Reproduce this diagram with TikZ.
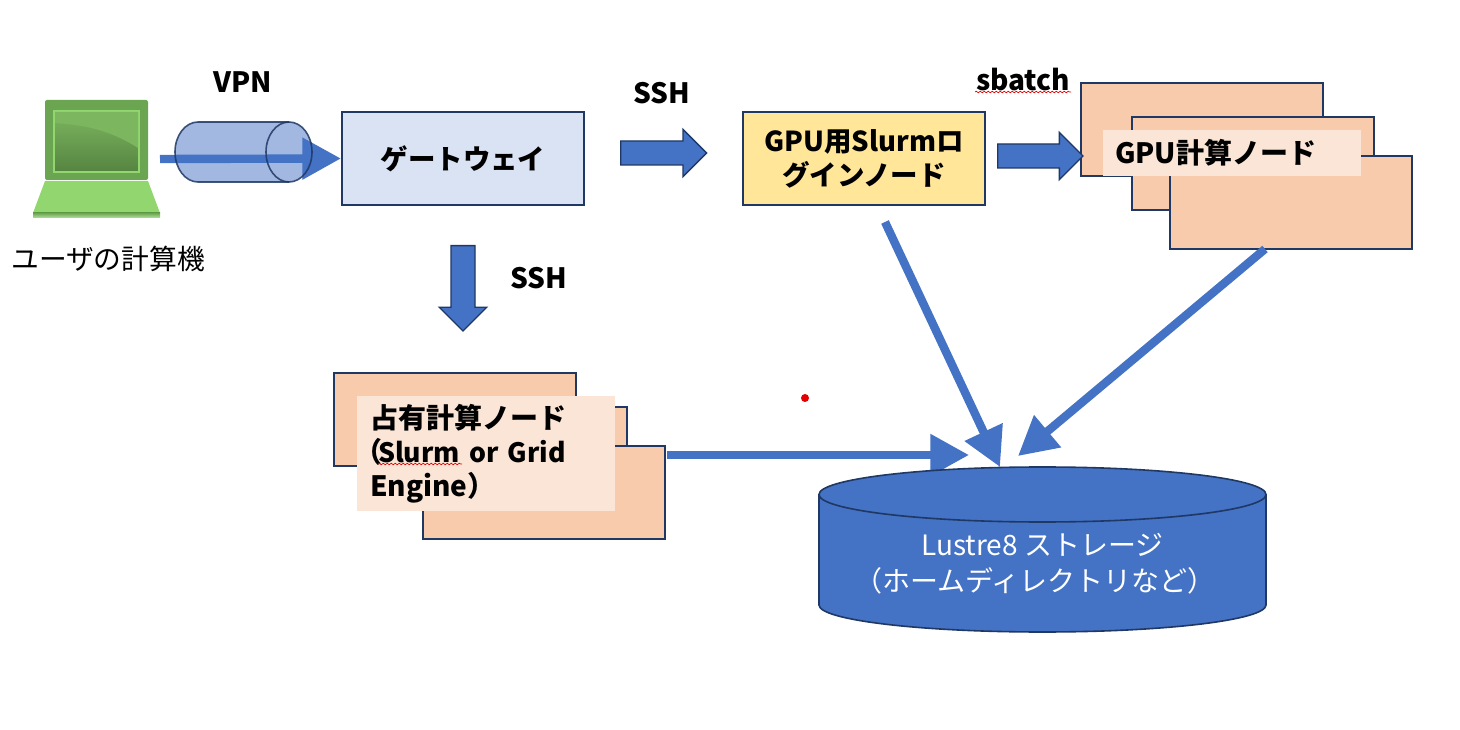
\documentclass[tikz,border=0pt]{standalone}
\usepackage{fontspec}
\setmainfont{Noto Sans CJK JP}
\usetikzlibrary{arrows.meta,shapes.arrows,decorations.pathmorphing}
\definecolor{edgeblue}{HTML}{1F3864}
\definecolor{mainblue}{HTML}{4472C4}
\definecolor{gatefill}{HTML}{DAE3F3}
\definecolor{loginfill}{HTML}{FFE699}
\definecolor{nodefill}{HTML}{F8CBAD}
\definecolor{labelfill}{HTML}{FBE5D6}
\definecolor{tubefill}{HTML}{A2B8E1}
\definecolor{lapdark}{HTML}{6BA552}
\definecolor{lapmid}{HTML}{92D670}
\tikzset{
  boxbase/.style={draw=edgeblue,line width=1.5pt,minimum width=181.5pt,minimum height=69.75pt,inner sep=0pt,align=center,font=\bfseries\fontsize{20.6}{25.5}\selectfont},
  gatebox/.style={boxbase,fill=gatefill},
  loginbox/.style={boxbase,fill=loginfill},
  compbox/.style={boxbase,fill=nodefill},
  tag/.style={fill=labelfill,inner ysep=0pt,align=left,font=\bfseries\fontsize{21}{25.5}\selectfont},
  caption/.style={inner sep=0pt,font=\bfseries\fontsize{21}{25.5}\selectfont},
  blockarrow/.style={single arrow,draw=edgeblue,line width=1pt,fill=mainblue,inner xsep=0pt,inner ysep=8.5pt,minimum width=34.5pt,single arrow head extend=8.75pt,anchor=tail},
  flow/.style={draw=mainblue,line width=6.3pt,-{Triangle[length=29pt,width=30pt]}},
  spell/.style={draw=red!90!black,line width=0.5pt,decorate,decoration={snake,segment length=3pt,amplitude=0.6pt}},
  tubeline/.style={draw=edgeblue,line width=1.2pt,draw opacity=.85}
}
\begin{document}
\begin{tikzpicture}[x=0.75pt,y=-0.75pt]
\useasboundingbox (0,0) rectangle (1460,730);
% laptop
\fill[lapdark,rounded corners=1.5pt] (45,100) rectangle (148,180);
\shade[top color=lapmid!85!black,bottom color=lapdark!80!black,draw=lapmid,line width=1.5pt] (54,111) rectangle (139,172);
\fill[lapmid!85!black] (55,112) -- (138,112) -- (138,148) .. controls (110,130) and (85,125) .. (55,123) -- cycle;
\fill[lapmid] (45,181) -- (148,181) -- (160,213) -- (33,213) -- cycle;
\shade[top color=lapdark,bottom color=lapmid!70!white] (33,213) rectangle (160,218);
\node[inner sep=0pt,anchor=west,font=\fontsize{20.8}{25.5}\selectfont] (user) at (11,259) {ユーザの計算機};
% VPN tube
\path[fill=tubefill] (198,122) -- (289,122) arc[start angle=-90,end angle=90,x radius=23,y radius=30] -- (198,182) arc[start angle=90,end angle=270,x radius=23,y radius=30] -- cycle;
\coordinate (vpnStart) at (160,159);
\node[gatebox] (gate) at (463,158.5) {ゲートウェイ};
\draw[flow] (vpnStart) -- (gate.west);
\path[tubeline] (198,122) -- (289,122) arc[start angle=-90,end angle=90,x radius=23,y radius=30] -- (198,182) arc[start angle=90,end angle=270,x radius=23,y radius=30] -- cycle;
\draw[tubeline] (289,122) arc[start angle=270,end angle=90,x radius=23,y radius=30];
\node[caption] (vpn) at (243,82) {VPN};
% login and GPU nodes
\node[loginbox] (login) at (864,158.5) {GPU用Slurmロ\\グインノード};
\node[compbox] (gpuA) at (1202,129.5) {};
\node[compbox] (gpuB) at (1253,163.5) {};
\node[compbox] (gpuC) at (1291,202.5) {};
\node[tag,text width=175.5pt,inner xsep=9pt,minimum height=34.5pt] (gpuTag) at (1232,153) {GPU計算ノード};
% block arrows
\node[blockarrow,minimum height=64.5pt] (sshA) at (620,153) {};
\node[blockarrow,minimum height=64pt] (sshB) at (997,156) {};
\node[blockarrow,minimum height=64pt,rotate=-90] (sshC) at (463,245) {};
\node[caption] (sshAtext) at (662,93) {SSH};
\node[caption] (sshCtext) at (539,278) {SSH};
\node[caption,anchor=west] (sbatch) at (976,80) {sbatch};
\coordinate (sbatchL) at (975,92);
\coordinate (sbatchR) at (1071,92);
\draw[spell] (sbatchL) -- (sbatchR);
% occupied nodes
\node[compbox] (occA) at (455,419.5) {};
\node[compbox] (occB) at (506,453.5) {};
\node[compbox] (occC) at (544,492.5) {};
\node[tag,text width=174pt,inner xsep=9.75pt,minimum height=86.25pt] (occTag) at (486,453.5) {占有計算ノード\\\hspace*{-12pt}（\hspace{-3pt}{\fontsize{20}{25.5}\selectfont Slurm or Grid}\\Engine）};
\coordinate (slurmL) at (378,464);
\coordinate (slurmR) at (462,464);
\draw[spell] (slurmL) -- (slurmR);
% flows into storage
\coordinate (occOut) at (667,455);
\coordinate (occIn) at (969,455);
\coordinate (loginOut) at (885,222);
\coordinate (loginIn) at (1000,467);
\coordinate (gpuOut) at (1265,249);
\coordinate (gpuIn) at (1018,456);
\draw[flow] (occOut) -- (occIn);
\draw[flow] (loginOut) -- (loginIn);
\draw[flow] (gpuOut) -- (gpuIn);
% storage
\path[fill=mainblue,draw=edgeblue,line width=1.2pt] (819,494.5) arc[start angle=180,end angle=360,x radius=223.5,y radius=27.5] -- (1266,605) arc[start angle=0,end angle=180,x radius=223.5,y radius=27] -- cycle;
\draw[edgeblue,line width=1.2pt] (819,494.5) arc[start angle=180,end angle=0,x radius=223.5,y radius=27.5];
\node[inner sep=0pt,align=center,text=white,font=\fontsize{21}{27}\selectfont] (storage) at (1035,564) {\hspace*{11pt}Lustre8 ストレージ\\（ホームディレクトリなど）};
% red dot
\fill[red!90!black] (805,398) circle[radius=4];
\end{tikzpicture}
\end{document}
